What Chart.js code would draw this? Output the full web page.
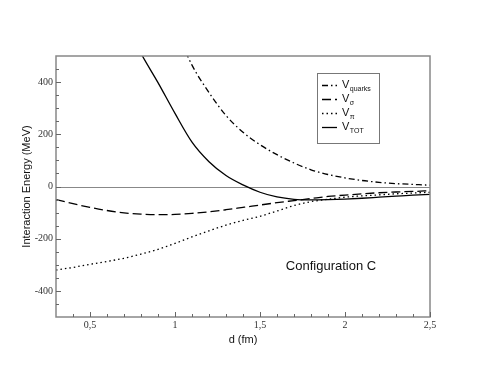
<!DOCTYPE html>
<html lang="en">
<head>
  <meta charset="UTF-8">
  <title>Interaction Energy - Configuration C</title>
  <script src="https://cdn.jsdelivr.net/npm/chart.js"></script>
  <style>
    html, body { margin: 0; padding: 0; background: #fff; }
    #wrap { width: 484px; height: 374px; }
  </style>
</head>
<body>
  <div id="wrap"><canvas id="chart" width="484" height="374"></canvas></div>
  <script>
    // d (fm) values, one list per curve
    const dTot = [0.75, 0.8, 0.9, 1.0, 1.1, 1.2, 1.3, 1.4, 1.5, 1.6, 1.7, 1.8, 1.9, 2.0, 2.1, 2.2, 2.3, 2.4, 2.5];
    const vTot = [575, 510, 398, 280, 170, 95, 42, 6, -22, -40, -49, -51, -50, -48, -45, -41, -37, -33, -30];

    const dQuarks = [1.0, 1.1, 1.2, 1.3, 1.4, 1.5, 1.6, 1.7, 1.8, 1.9, 2.0, 2.1, 2.2, 2.3, 2.4, 2.5];
    const vQuarks = [610, 465, 360, 272, 208, 160, 122, 90, 64, 46, 33, 23, 16, 11, 8, 5];

    const dMeson = [0.3, 0.4, 0.5, 0.6, 0.7, 0.8, 0.9, 1.0, 1.1, 1.2, 1.3, 1.4, 1.5, 1.6, 1.7, 1.8, 1.9, 2.0, 2.1, 2.2, 2.3, 2.4, 2.5];
    const vSigma = [-50, -66, -80, -92, -101, -106, -108, -107, -103, -97, -89, -80, -71, -62, -54, -46, -38, -33, -28, -24, -21, -19, -16];
    const vPi = [-320, -310, -298, -287, -275, -259, -241, -218, -193, -170, -148, -130, -114, -94, -73, -58, -49, -41, -36, -32, -28, -25, -22];

    const xTicks = [0.5, 1, 1.5, 2, 2.5];
    const xTickLabels = ['0,5', '1', '1,5', '2', '2,5'];
    const yTicks = [-400, -200, 0, 200, 400];

    const legendNames = [['V', 'quarks'], ['V', 'σ'], ['V', 'π'], ['V', 'TOT']];

    const dashQuarks = [6, 3, 1.5, 3];
    const dashSigma = [9, 4];
    const dashPi = [1.5, 3];

    function pts(xs, ys) {
      return xs.map((x, i) => ({ x: x, y: ys[i] }));
    }

    function line(label, xs, ys, dash) {
      return {
        label: label,
        data: pts(xs, ys),
        borderColor: '#000',
        borderWidth: 1.3,
        borderDash: dash,
        pointRadius: 0,
        cubicInterpolationMode: 'monotone',
        fill: false
      };
    }

    // frame, zero line, inward ticks, legend box and caption
    const decor = {
      id: 'decor',
      beforeDatasetsDraw(chart) {
        const ctx = chart.ctx;
        const a = chart.chartArea;
        const ys = chart.scales.y;
        ctx.save();
        ctx.strokeStyle = '#888';
        ctx.lineWidth = 1;
        const y0 = Math.round(ys.getPixelForValue(0)) + 0.5;
        ctx.beginPath();
        ctx.moveTo(a.left, y0);
        ctx.lineTo(a.right, y0);
        ctx.stroke();
        ctx.restore();
      },
      afterDraw(chart) {
        const ctx = chart.ctx;
        const a = chart.chartArea;
        const xs = chart.scales.x, ys = chart.scales.y;
        ctx.save();
        ctx.strokeStyle = '#888';
        ctx.lineWidth = 1.5;
        ctx.strokeRect(a.left, a.top, a.right - a.left, a.bottom - a.top);

        ctx.lineWidth = 1;
        ctx.strokeStyle = '#666';
        ctx.beginPath();
        for (let i = 4; i <= 25; i++) {
          const px = Math.round(xs.getPixelForValue(i / 10)) + 0.5;
          const major = i % 5 === 0;
          ctx.moveTo(px, a.bottom);
          ctx.lineTo(px, a.bottom - (major ? 5 : 3));
        }
        for (let v = -450; v <= 450; v += 50) {
          const py = Math.round(ys.getPixelForValue(v)) + 0.5;
          const major = v % 200 === 0;
          ctx.moveTo(a.left, py);
          ctx.lineTo(a.left + (major ? 5 : 3), py);
        }
        ctx.stroke();

        // legend
        const bx = 317, by = 73, bw = 62, bh = 70;
        ctx.fillStyle = '#fff';
        ctx.fillRect(bx, by, bw, bh);
        ctx.strokeStyle = '#777';
        ctx.lineWidth = 1;
        ctx.strokeRect(bx + 0.5, by + 0.5, bw, bh);
        const rows = [85, 99, 113, 127];
        const dashes = [dashQuarks, dashSigma, dashPi, []];
        rows.forEach((ry, i) => {
          ctx.strokeStyle = '#000';
          ctx.lineWidth = 1.3;
          ctx.setLineDash(dashes[i]);
          ctx.beginPath();
          ctx.moveTo(322, ry + 0.5);
          ctx.lineTo(337, ry + 0.5);
          ctx.stroke();
          ctx.setLineDash([]);
          ctx.fillStyle = '#111';
          ctx.textBaseline = 'alphabetic';
          ctx.textAlign = 'left';
          ctx.font = '11px "Liberation Sans", Arial, sans-serif';
          ctx.fillText(legendNames[i][0], 342, ry + 3);
          const w = ctx.measureText(legendNames[i][0]).width;
          ctx.font = '7px "Liberation Sans", Arial, sans-serif';
          ctx.fillText(legendNames[i][1], 342 + w + 0.5, ry + 6);
        });

        ctx.fillStyle = '#111';
        ctx.font = '13px "Liberation Sans", Arial, sans-serif';
        ctx.textAlign = 'center';
        ctx.textBaseline = 'middle';
        ctx.fillText('Configuration C', 331, 266);
        ctx.restore();
      }
    };

    new Chart(document.getElementById('chart'), {
      type: 'line',
      data: {
        datasets: [
          line('V quarks', dQuarks, vQuarks, dashQuarks),
          line('V sigma', dMeson, vSigma, dashSigma),
          line('V pi', dMeson, vPi, dashPi),
          line('V TOT', dTot, vTot, [])
        ]
      },
      options: {
        responsive: false,
        animation: false,
        layout: { padding: { left: 20, right: 54, top: 56, bottom: 27 } },
        plugins: {
          legend: { display: false },
          tooltip: { enabled: false }
        },
        scales: {
          x: {
            type: 'linear',
            min: 0.3,
            max: 2.5,
            afterBuildTicks: s => { s.ticks = xTicks.map(v => ({ value: v })); },
            afterFit: s => { s.height = 30; },
            grid: { display: false, drawTicks: false, tickLength: 0 },
            border: { display: false },
            ticks: {
              padding: 2,
              color: '#333',
              font: { family: '"Liberation Serif", "Times New Roman", serif', size: 10 },
              callback: (v) => xTickLabels[xTicks.indexOf(v)]
            },
            title: {
              display: true,
              text: 'd (fm)',
              color: '#111',
              padding: { top: 0, bottom: 0 },
              font: { family: '"Liberation Sans", Arial, sans-serif', size: 11 }
            }
          },
          y: {
            min: -500,
            max: 500,
            afterBuildTicks: s => { s.ticks = yTicks.map(v => ({ value: v })); },
            afterFit: s => { s.width = 36; },
            grid: { display: false, drawTicks: false, tickLength: 0 },
            border: { display: false },
            ticks: {
              padding: 3,
              color: '#333',
              font: { family: '"Liberation Serif", "Times New Roman", serif', size: 10 },
              callback: (v) => String(v)
            },
            title: {
              display: true,
              text: 'Interaction Energy (MeV)',
              color: '#111',
              padding: { top: 0, bottom: 0 },
              font: { family: '"Liberation Sans", Arial, sans-serif', size: 11 }
            }
          }
        }
      },
      plugins: [decor]
    });
  </script>
</body>
</html>
